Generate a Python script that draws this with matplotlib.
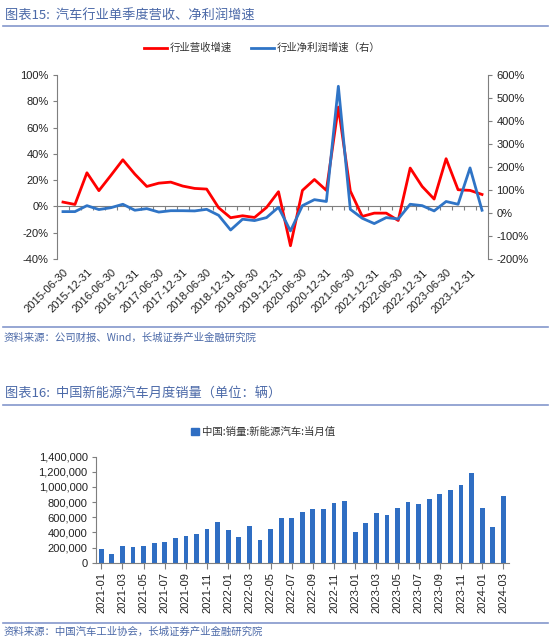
import matplotlib
matplotlib.use('Agg')
import matplotlib.pyplot as plt
from matplotlib.lines import Line2D
from matplotlib.ticker import FuncFormatter, MultipleLocator, FixedLocator, NullFormatter
from matplotlib.patches import Patch

# 汽车行业单季度营收、净利润增速 (2015Q2 - 2024Q1)
quarters = []
for yr in range(2015, 2025):
    for q in ['03-31', '06-30', '09-30', '12-31']:
        quarters.append(f'{yr}-{q}')
quarters = quarters[1:37]

rev_growth = [3.3, 1.5, 25.6, 12.0, 23.6, 35.5, 24.6, 15.2, 17.7, 18.5, 15.5, 13.7,
              13.2, -1.0, -8.6, -7.1, -8.4, -0.8, 11.2, -29.9, 12.2, 20.5, 12.2, 75.6,
              11.7, -7.6, -5.1, -5.1, -10.7, 29.2, 15.2, 5.6, 36.3, 12.7, 12.2, 9.1]
profit_growth = [6, 6, 32, 15, 23, 38, 12, 19, 4, 10, 10, 9,
                 16, -10, -74, -27, -33, -20, 25, -78, 32, 58, 50, 551,
                 16, -23, -46, -20, -26, 38, 32, 9, 50, 38, 196, 12]

# 中国新能源汽车月度销量 (2021-01 - 2024-03)
months = []
for yr in range(2021, 2025):
    for m in range(1, 13):
        months.append(f'{yr}-{m:02d}')
months = months[:39]

nev_sales = [179000, 110000, 226000, 206000, 217000, 256000, 271000, 321000, 357000, 383000,
             450000, 531000, 431000, 334000, 484000, 299000, 447000, 596000, 593000, 666000,
             708000, 714000, 786000, 814000, 408000, 525000, 653000, 636000, 717000, 806000,
             780000, 846000, 904000, 956000, 1026000, 1191000, 729000, 477000, 883000]

W, H = 550, 639
RED = '#FF0000'
BLUE = '#2F74C6'
BAR = '#2F6EC3'
HEAD = '#4B69A8'
RULE = '#8497CC'
CJK = ['Noto Sans CJK SC', 'DejaVu Sans']

plt.rcParams['font.family'] = ['Liberation Sans', 'Noto Sans CJK SC']
plt.rcParams['font.size'] = 8
plt.rcParams['axes.unicode_minus'] = False

fig = plt.figure(figsize=(W / 100, H / 100), dpi=100)


def fx(px):
    return px / W


def fy(py):
    return 1 - py / H


def rule(py):
    fig.add_artist(Line2D([fx(3), fx(548)], [fy(py), fy(py)], color=RULE, lw=1.2))


# ---------- 图表15 ----------
fig.text(fx(5), fy(16), '图表15:  汽车行业单季度营收、净利润增速', family=CJK, style='italic',
         fontsize=9.5, color=HEAD, va='center', ha='left')
rule(26)

ax = fig.add_axes([fx(57), fy(259), fx(488) - fx(57), (259 - 75) / H])
ax2 = ax.twinx()
x = list(range(len(quarters)))
l1, = ax.plot(x, rev_growth, color=RED, lw=2.0, label='行业营收增速', zorder=3)
l2, = ax2.plot(x, profit_growth, color=BLUE, lw=2.0, label='行业净利润增速（右）', zorder=3)

ax.set_xlim(-0.5, len(quarters) - 0.5)
ax.set_ylim(-40, 100)
ax.yaxis.set_major_locator(MultipleLocator(20))
ax.yaxis.set_major_formatter(FuncFormatter(lambda v, p: f'{v:.0f}%'))
ax2.set_ylim(-200, 600)
ax2.yaxis.set_major_locator(MultipleLocator(100))
ax2.yaxis.set_major_formatter(FuncFormatter(lambda v, p: f'{v:.0f}%'))

for a in (ax, ax2):
    a.spines['top'].set_visible(False)
    a.patch.set_visible(False)
ax2.spines['bottom'].set_visible(False)
ax2.spines['left'].set_visible(False)
ax.spines['right'].set_visible(False)
ax.spines['left'].set_color('#7f7f7f')
ax2.spines['right'].set_color('#7f7f7f')
ax.spines['bottom'].set_position(('data', 0))
ax.spines['bottom'].set_color('#7f7f7f')
ax.spines['bottom'].set_zorder(2)
ax.tick_params(axis='y', length=3, color='#7f7f7f', labelcolor='#222222', labelsize=8, pad=3)
ax2.tick_params(axis='y', length=3, color='#7f7f7f', labelcolor='#222222', labelsize=8, pad=3)
ax.xaxis.set_major_locator(FixedLocator([i + 0.5 for i in x[:-1]]))
ax.xaxis.set_major_formatter(NullFormatter())
ax.tick_params(axis='x', length=3, color='#7f7f7f')

sec = ax.secondary_xaxis('bottom')
sec.spines['bottom'].set_visible(False)
sec.set_xticks(x[::2])
sec.set_xticklabels(quarters[::2], rotation=45, ha='right', rotation_mode='anchor')
sec.tick_params(axis='x', length=0, pad=6, labelsize=8, labelcolor='#222222')

fig.legend(handles=[l1, l2], loc='center', bbox_to_anchor=(fx(262), fy(48)), ncol=2,
           frameon=False, prop={'family': CJK, 'size': 7.5}, handlelength=2.2,
           handletextpad=0.3, columnspacing=1.8, labelcolor='#333333')

rule(327)
fig.text(fx(4), fy(338), '资料来源：公司财报、Wind，长城证券产业金融研究院', family=CJK,
         style='italic', fontsize=7.5, color=HEAD, va='center', ha='left')

# ---------- 图表16 ----------
fig.text(fx(5), fy(394), '图表16:  中国新能源汽车月度销量（单位：辆）', family=CJK, style='italic',
         fontsize=9.5, color=HEAD, va='center', ha='left')
rule(405)

bx = fig.add_axes([fx(96), fy(562.7), fx(508.6) - fx(96), (562.7 - 456.7) / H])
mx = list(range(len(months)))
bars = bx.bar(mx, nev_sales, width=0.45, color=BAR, zorder=2)
bx.set_xlim(-0.5, len(months) - 0.5)
bx.set_ylim(0, 1400000)
bx.yaxis.set_major_locator(MultipleLocator(200000))
bx.yaxis.set_major_formatter(FuncFormatter(lambda v, p: f'{v:,.0f}'))
bx.set_xticks(mx[::2])
bx.set_xticklabels(months[::2], rotation=90)
bx.tick_params(axis='x', length=4, color='#7f7f7f', labelsize=8, labelcolor='#222222', pad=3)
bx.tick_params(axis='y', length=3, color='#7f7f7f', labelsize=8, labelcolor='#222222', pad=3)
for s in ('top', 'right'):
    bx.spines[s].set_visible(False)
for s in ('left', 'bottom'):
    bx.spines[s].set_color('#7f7f7f')

fig.legend(handles=[Patch(color=BAR, label='中国:销量:新能源汽车:当月值')], loc='center',
           bbox_to_anchor=(fx(263), fy(432)), frameon=False,
           prop={'family': CJK, 'size': 7.5}, handlelength=0.7, handleheight=0.7,
           handletextpad=0.3, labelcolor='#333333')

rule(623)
fig.text(fx(4), fy(632), '资料来源：中国汽车工业协会，长城证券产业金融研究院', family=CJK,
         style='italic', fontsize=7.5, color=HEAD, va='center', ha='left')

fig.savefig('out.png', dpi=100)
